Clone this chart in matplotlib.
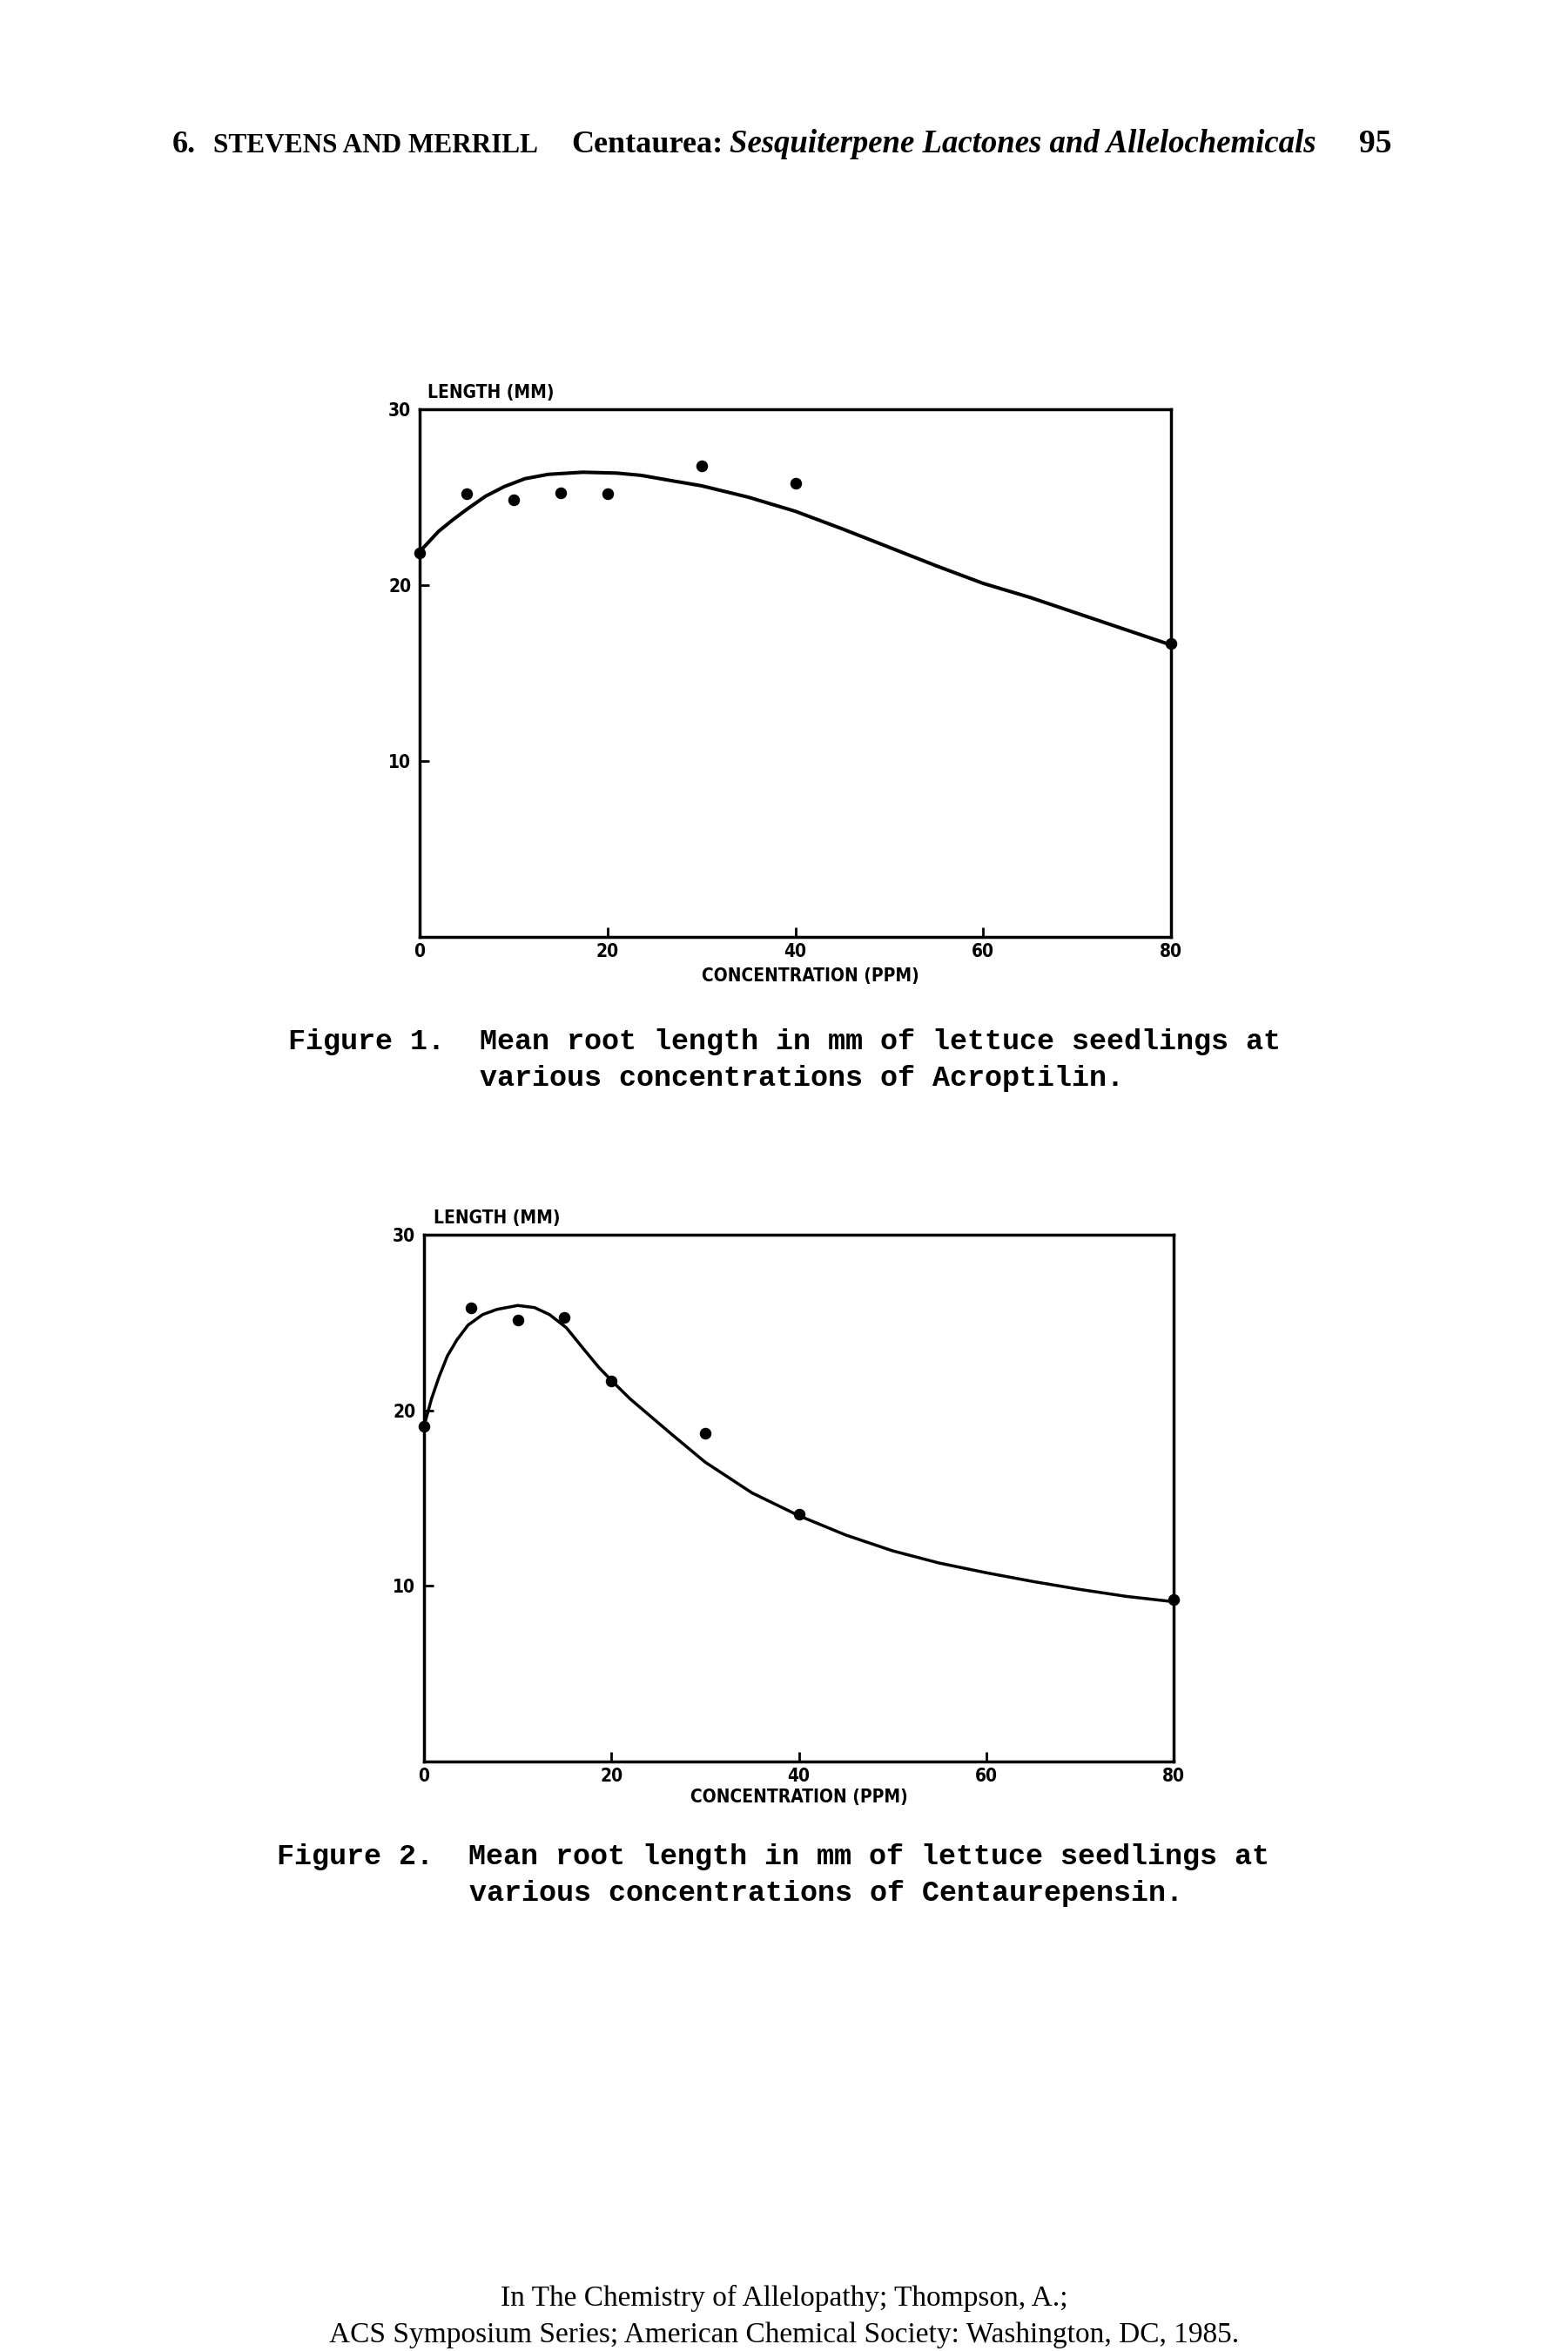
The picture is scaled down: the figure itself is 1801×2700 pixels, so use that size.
import matplotlib
matplotlib.use('Agg')
import matplotlib.pyplot as plt

# ---------------- data ----------------
# Figure 1 - Acroptilin
conc1 = [0, 5, 10, 15, 20, 30, 40, 80]
length1 = [21.85, 25.2, 24.85, 25.25, 25.2, 26.8, 25.8, 16.7]
curve1_x = [0, 2, 3.5, 5, 7, 9, 11.2, 13.7, 17.4, 21, 23.6, 26.7, 30, 35, 40, 45, 50, 55,
            60, 65, 70, 75, 80]
curve1_y = [21.9, 23.05, 23.7, 24.3, 25.05, 25.6, 26.05, 26.3, 26.42, 26.37, 26.24, 25.95,
            25.65, 25.0, 24.2, 23.2, 22.15, 21.1, 20.1, 19.3, 18.4, 17.5, 16.6]

# Figure 2 - Centaurepensin
conc2 = [0, 5, 10, 15, 20, 30, 40, 80]
length2 = [19.1, 25.85, 25.15, 25.3, 21.65, 18.7, 14.1, 9.2]
curve2_x = [0, 0.8, 1.6, 2.5, 3.5, 4.7, 6.25, 7.8, 10, 11.8, 13.4, 15.2, 17.1, 18.65, 20.1,
            22, 24.2, 26.4, 30, 35, 40, 45, 50, 55, 60, 65, 70, 75, 80]
curve2_y = [19.1, 20.65, 21.9, 23.1, 24.0, 24.85, 25.45, 25.75, 25.97, 25.85, 25.45, 24.7,
            23.45, 22.45, 21.65, 20.65, 19.65, 18.65, 17.05, 15.3, 14.0, 12.9, 12.0, 11.3,
            10.75, 10.25, 9.8, 9.4, 9.1]

x_ticks = [0, 20, 40, 60, 80]
y_ticks = [10, 20, 30]
y_label = "LENGTH (MM)"
x_label = "CONCENTRATION (PPM)"

header_parts = ["6.", "STEVENS AND MERRILL", "Centaurea:",
                "Sesquiterpene Lactones and Allelochemicals", "95"]
caption1 = ["Figure 1.  Mean root length in mm of lettuce seedlings at",
            "various concentrations of Acroptilin."]
caption2 = ["Figure 2.  Mean root length in mm of lettuce seedlings at",
            "various concentrations of Centaurepensin."]
footer = ["In The Chemistry of Allelopathy; Thompson, A.;",
          "ACS Symposium Series; American Chemical Society: Washington, DC, 1985."]

# ---------------- figure ----------------
W, H = 1801, 2700
fig = plt.figure(figsize=(W / 100, H / 100), dpi=100)
fig.patch.set_facecolor('white')

plot_font = dict(family=['DejaVu Sans'], weight='bold', stretch='condensed')


def fx(px):
    return px / W


def fy(py):
    return 1 - py / H


def panel(left, top, right, bottom, cx, cy, px, py, lw, ylab_dx, xlab_x, xlab_dy):
    ax = fig.add_axes([fx(left), fy(bottom), fx(right - left), (bottom - top) / H])
    ax.plot(cx, cy, color='black', lw=lw, solid_joinstyle='round', solid_capstyle='round')
    ax.plot(px, py, 'o', color='black', ms=8.7, clip_on=False, zorder=5)
    ax.set_xlim(0, 80)
    ax.set_ylim(0, 30)
    for s in ax.spines.values():
        s.set_linewidth(2.5)
    ax.set_xticks(x_ticks)
    ax.set_xticklabels([str(v) for v in x_ticks], fontsize=15, **plot_font)
    ax.set_yticks(y_ticks)
    ax.set_yticklabels([str(v) for v in y_ticks], fontsize=15, **plot_font)
    ax.tick_params(axis='x', direction='in', length=8, width=2, pad=5)
    ax.tick_params(axis='y', direction='in', length=8, width=2, pad=7)
    ax.text(ylab_dx, 1.031, y_label, transform=ax.transAxes, ha='left', va='center',
            fontsize=15, **plot_font)
    ax.text(xlab_x, xlab_dy, x_label, transform=ax.transAxes, ha='center', va='center',
            fontsize=15, **plot_font)
    return ax


panel(482, 470, 1345, 1076, curve1_x, curve1_y, conc1, length1, 2.9, 0.01, 0.52, -0.074)
panel(487, 1418, 1348, 2023, curve2_x, curve2_y, conc2, length2, 2.5, 0.013, 0.50, -0.068)

# header
serif = ['Liberation Serif', 'DejaVu Serif']
hy = fy(175)
fig.text(fx(198), hy, header_parts[0], fontsize=26, family=serif, weight='bold', va='baseline')
fig.text(fx(245), hy, header_parts[1], fontsize=22.5, family=serif, weight='bold', va='baseline')
fig.text(fx(656), hy, header_parts[2], fontsize=26, family=serif, weight='bold', va='baseline')
fig.text(fx(838), hy, header_parts[3], fontsize=26.5, family=serif, weight='bold',
         style='italic', va='baseline')
fig.text(fx(1598), hy, header_parts[4], fontsize=27, family=serif, weight='bold',
         va='baseline', ha='right')

# captions
mono = dict(family=['Liberation Mono', 'DejaVu Sans Mono'], weight='bold', fontsize=24)
fig.text(fx(331), fy(1197), caption1[0], va='center', **mono)
fig.text(fx(551), fy(1238), caption1[1], va='center', **mono)
fig.text(fx(318), fy(2133), caption2[0], va='center', **mono)
fig.text(fx(539), fy(2174), caption2[1], va='center', **mono)

# footer
fig.text(0.5, fy(2639), footer[0], ha='center', va='center', fontsize=24, family=serif)
fig.text(0.5, fy(2682), footer[1], ha='center', va='center', fontsize=24, family=serif)

fig.savefig('out.png', dpi=100, facecolor='white')
